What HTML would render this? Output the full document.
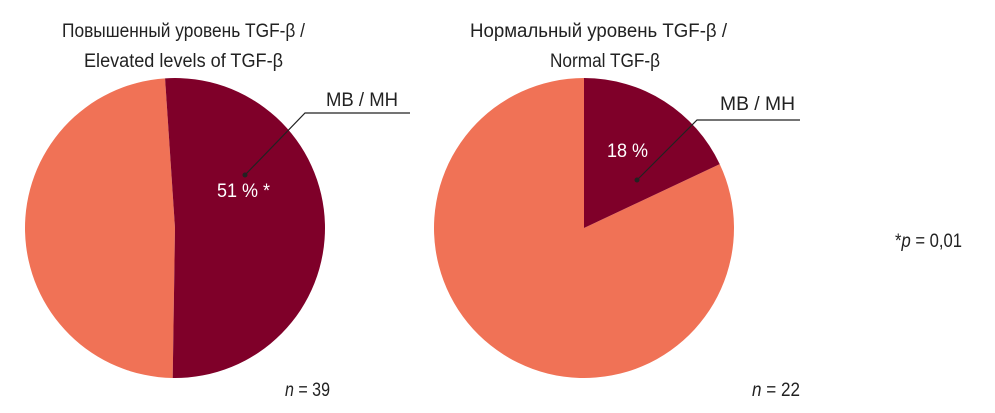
<!DOCTYPE html>
<html><head><meta charset="utf-8"><style>
html,body{margin:0;padding:0;background:#fff;width:995px;height:413px;overflow:hidden}
svg text{font-family:"Liberation Sans Narrow","Liberation Sans",sans-serif;fill:#222;font-size:19px}
</style></head><body>
<svg width="995" height="413">
<g id="p1"></g>
<g id="p2"></g>
<text x="62" y="37" textLength="243" lengthAdjust="spacingAndGlyphs">Повышенный уровень TGF-β /</text>
<text x="84" y="67" textLength="199" lengthAdjust="spacingAndGlyphs">Elevated levels of TGF-β</text>
<text x="470" y="37" textLength="257" lengthAdjust="spacingAndGlyphs">Нормальный уровень TGF-β /</text>
<text x="550" y="67" textLength="110" lengthAdjust="spacingAndGlyphs">Normal TGF-β</text>
<g>
<text x="326" y="106" textLength="72" lengthAdjust="spacingAndGlyphs">МВ / МН</text>
<polyline points="410,113 305,113 245,175" fill="none" stroke="#222" stroke-width="1.2"/>
<circle cx="245" cy="175" r="2.5" fill="#222"/>
</g>
<g>
<text x="720" y="110" textLength="75" lengthAdjust="spacingAndGlyphs">МВ / МН</text>
<polyline points="800,120 697,120 637,180" fill="none" stroke="#222" stroke-width="1.2"/>
<circle cx="637" cy="180" r="2.5" fill="#222"/>
</g>
<text x="217" y="197" textLength="53" lengthAdjust="spacingAndGlyphs" style="fill:#fff">51 % *</text>
<text x="607" y="157" textLength="41" lengthAdjust="spacingAndGlyphs" style="fill:#fff">18 %</text>
<text x="285" y="396" textLength="45" lengthAdjust="spacingAndGlyphs"><tspan font-style="italic">n</tspan> = 39</text>
<text x="752" y="396" textLength="48" lengthAdjust="spacingAndGlyphs"><tspan font-style="italic">n</tspan> = 22</text>
<text x="895" y="247" textLength="67" lengthAdjust="spacingAndGlyphs">*<tspan font-style="italic">p</tspan> = 0,01</text>
</svg>
<script>
const groups=["Повышенный","Нормальный"];
const mvShare=[51.3,18];
const startOffsetDeg=[-3.8,0];
const centers=[[175,228],[584,228]];
const R=150;
function pt(c,a){const r=a*Math.PI/180;return [c[0]+R*Math.sin(r),c[1]-R*Math.cos(r)];}
function arc(c,a0,a1,col,g,name){
  const p0=pt(c,a0),p1=pt(c,a1),large=(a1-a0)>180?1:0;
  const p=document.createElementNS("http://www.w3.org/2000/svg","path");
  p.setAttribute("d",`M${c[0]},${c[1]} L${p0[0]},${p0[1]} A${R},${R} 0 ${large} 1 ${p1[0]},${p1[1]} Z`);
  p.setAttribute("fill",col);
  
  
  g.appendChild(p);
}
["p1","p2"].forEach((id,i)=>{
  const g=document.getElementById(id);
  const s=startOffsetDeg[i],e=s+mvShare[i]*3.6;
  arc(centers[i],e,s+360,"#f07256",g,"slice-other");
  arc(centers[i],s,e,"#7f0029",g,"slice-mv-mn");
});
</script>
</body></html>
